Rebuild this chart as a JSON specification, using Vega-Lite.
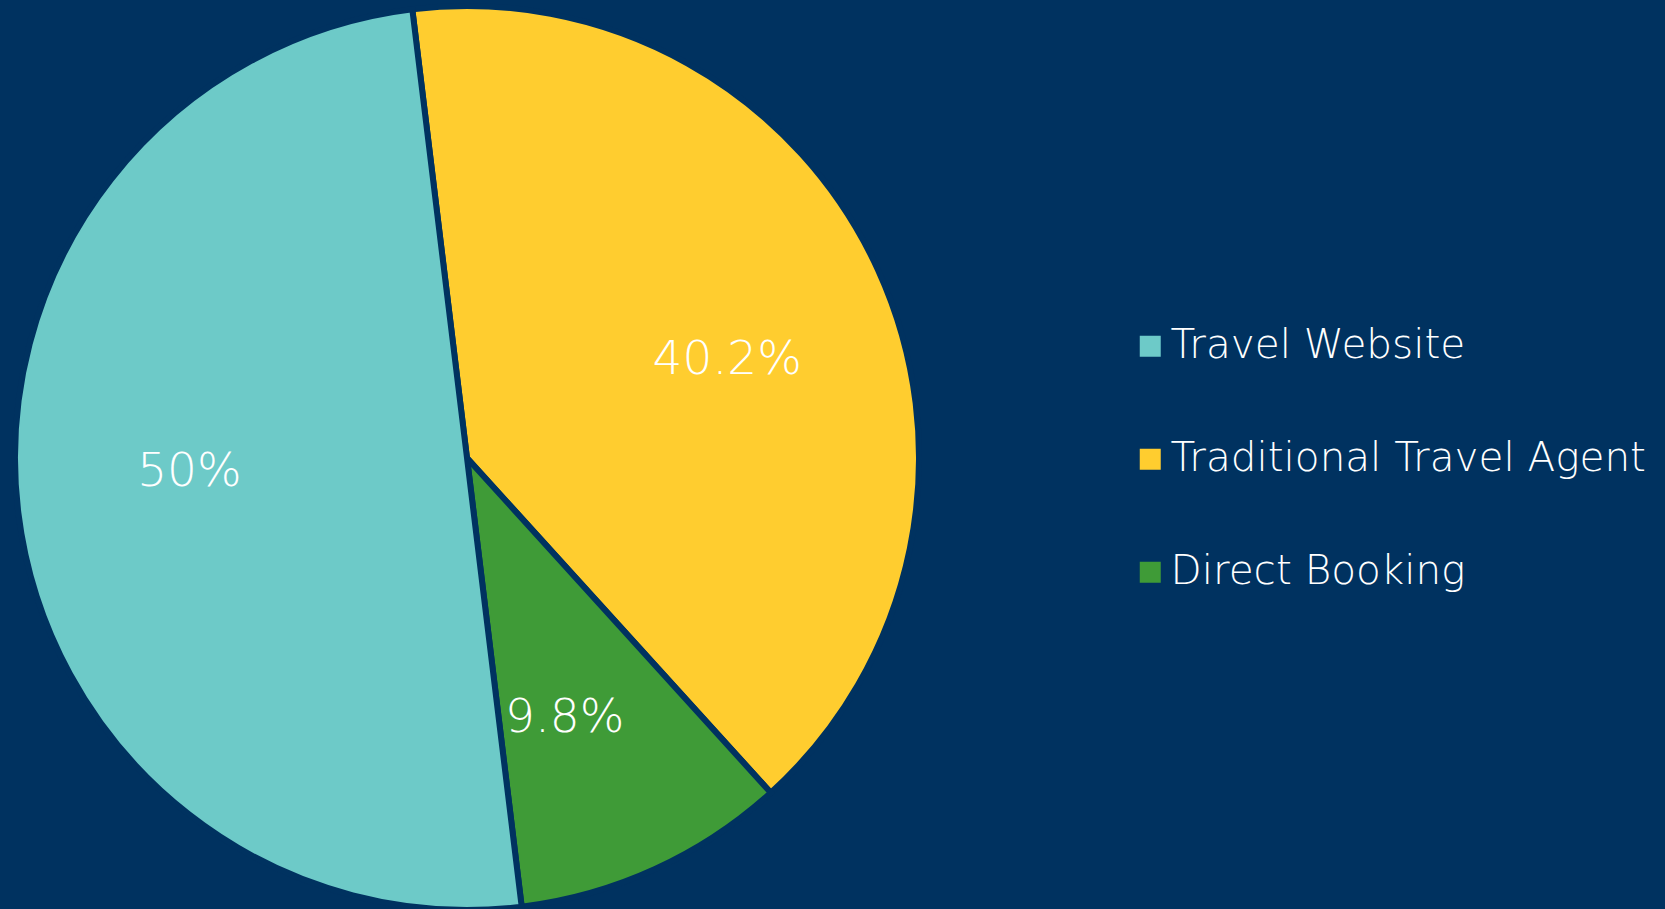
{
  "$schema": "https://vega.github.io/schema/vega-lite/v6.json",
  "width": 934,
  "height": 904,
  "autosize": "none",
  "padding": {"left": 0, "top": 6, "right": 731, "bottom": 0},
  "background": "#003260",
  "data": {
    "values": [
      {"channel": "Traditional Travel Agent", "share": 0.402, "ord": 1},
      {"channel": "Direct Booking", "share": 0.098, "ord": 2},
      {"channel": "Travel Website", "share": 0.5, "ord": 3}
    ]
  },
  "encoding": {
    "theta": {"field": "share", "type": "quantitative", "stack": true, "scale": {"range": [-0.1213, 6.1619]}},
    "order": {"field": "ord", "type": "quantitative"},
    "color": {
      "field": "channel",
      "type": "nominal",
      "scale": {
        "domain": ["Travel Website", "Traditional Travel Agent", "Direct Booking"],
        "range": ["#6DCAC8", "#FFCD2F", "#3F9B37"]
      },
      "legend": {
        "title": null,
        "orient": "none",
        "legendX": 1130,
        "legendY": 320,
        "padding": 0,
        "symbolType": "square",
        "symbolSize": 441,
        "symbolStrokeWidth": 0,
        "symbolOpacity": 1,
        "labelFont": "DejaVu Sans",
        "labelFontWeight": 200,
        "labelFontSize": 40.5,
        "labelColor": "#FFFFFF",
        "labelOffset": 0,
        "labelLimit": 600,
        "rowPadding": 72
      }
    }
  },
  "layer": [
    {
      "mark": {"type": "arc", "stroke": "#003260", "strokeWidth": 6}
    },
    {
      "mark": {"type": "text", "radius": 278, "thetaOffset": 0.07, "font": "DejaVu Sans", "fontWeight": 200, "fontSize": 47, "fill": "#FFFFFF", "align": "center", "baseline": "middle"},
      "encoding": {
        "text": {"field": "share", "type": "quantitative", "format": ".1~%"},
        "color": {"value": "#FFFFFF"}
      }
    }
  ]
}
